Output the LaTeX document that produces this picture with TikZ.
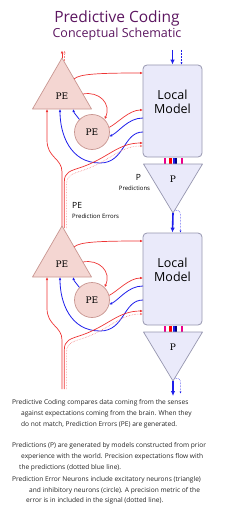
\documentclass[tikz,border=0pt]{standalone}
\usepackage{fontspec}
\setmainfont{Open Sans}
\newfontfamily\peserif{DejaVu Serif}
\usepackage{tikz}
\usetikzlibrary{arrows.meta}
\definecolor{titlepurple}{RGB}{92,22,96}
\definecolor{errred}{RGB}{238,52,52}
\definecolor{predblue}{RGB}{30,30,235}
\definecolor{pefill}{RGB}{244,214,210}
\definecolor{peline}{RGB}{200,150,145}
\definecolor{modelfill}{RGB}{234,234,250}
\definecolor{modelline}{RGB}{150,150,175}
\definecolor{bodytext}{RGB}{35,35,35}

\begin{document}
\begin{tikzpicture}[x=1pt,y=-1pt,
    pecell/.style={draw=peline,fill=pefill,line width=0.7pt,line join=round},
    pecirc/.style={pecell,circle,minimum size=35pt,inner sep=0pt,
                   font=\peserif\fontsize{9}{10}\selectfont},
    modelbox/.style={draw=modelline,fill=modelfill,rounded corners=4pt,line width=0.8pt,
                     minimum width=59pt,minimum height=92pt},
    predtri/.style={draw=modelline,fill=modelfill,line width=0.7pt,line join=round},
    serifpe/.style={font=\peserif\fontsize{9}{10}\selectfont},
    err/.style={draw=errred,line width=0.7pt,-{Latex[length=3pt,width=2.6pt]}},
    errdot/.style={draw=errred!60,line width=0.6pt,densely dotted,-{Latex[length=3pt,width=2.6pt]}},
    pred/.style={draw=predblue,line width=0.8pt,-{Latex[length=3pt,width=2.6pt]}},
    predthick/.style={draw=predblue,line width=1.6pt,-{Latex[length=5pt,width=4.5pt]}},
    precis/.style={draw=predblue,line width=0.5pt,densely dotted,-{Latex[length=2pt,width=2pt]}},
    bodyline/.style={anchor=west,inner sep=0pt,text=bodytext,font=\fontsize{6.6}{8}\selectfont}
  ]
  \useasboundingbox (0,0) rectangle (250,527);

  % title
  \node[font=\fontsize{15.5}{18}\selectfont,text=titlepurple] (title) at (117,18) {Predictive Coding};
  \node[font=\fontsize{12.5}{15}\selectfont,text=titlepurple] (subtitle) at (117,34.5) {Conceptual Schematic};

  % two levels of the hierarchy
  \foreach \i/\dy/\sy in {1/0/228,2/168/221}{
    \begin{scope}[yshift=-\dy pt]
      % prediction error neurons
      \draw[pecell] (62,58) -- (91.5,109) -- (32.5,109) -- cycle;
      \node[serifpe] (peT\i) at (62,96) {PE};
      \node[pecirc] (peC\i) at (92,132) {PE};
      % local model and predictions
      \node[modelbox] (model\i) at (172.5,111) {};
      \node[font=\fontsize{12.5}{14}\selectfont,align=center] (modtxt\i) at (172.5,101.5) {Local\\Model};
      \foreach \bx/\bw/\bc in {164.8/1.5/magenta,169.7/2/red,171.7/1.2/red,
                               173.8/1.6/predblue,176/2.2/blue!50!black,181.8/1.5/magenta}
        \draw[\bc,line width=\bw pt] (\bx,158) -- (\bx,164);
      \draw[predtri] (143.5,164) -- (202.5,164) -- (173,213) -- cycle;
      \node[serifpe] (pred\i) at (173,179) {P};
      \coordinate (predTip\i) at (173,213);
      % ports
      \coordinate (trA\i) at (74,79);
      \coordinate (trB\i) at (83,94);
      \coordinate (tbA\i) at (73,109);
      \coordinate (tbB\i) at (60,109);
      \coordinate (tbC\i) at (47,109);
      \coordinate (mA\i) at (143,73);
      \coordinate (mB\i) at (143,110);
      \coordinate (mC\i) at (143,118);
      \coordinate (mD\i) at (143,132);
      \coordinate (mE\i) at (143,143);
      \coordinate (mF\i) at (143,146);
      % connections within the level
      \draw[err] (trA\i) .. controls +(5,-5) and +(-45,0) .. (mA\i);
      \draw[err] (trB\i) .. controls +(16,-3) and +(7,-16) .. (peC\i.45);
      \draw[err] (peC\i.15) .. controls +(8,-4) and +(-14,0) .. (mB\i);
      \draw[pred] (mC\i) .. controls +(-15,0) and +(10,-5) .. (peC\i.-15);
      \draw[pred] (peC\i.135) .. controls +(-3,-4) and +(1,4) .. (tbA\i);
      \draw[pred] (mD\i) .. controls +(-20,0) and +(25,0) .. (100,163)
                  .. controls +(-30,0) and +(0,25) .. (tbB\i);
      % errors coming up from below
      \draw[err] (62,\sy) -- (62,172) .. controls (62,158) and (47,158) .. (47,140) -- (tbC\i);
      \draw[err] (64.3,\sy) -- (64.3,182) .. controls (64.3,172) and (70,171) .. (82,167)
                 .. controls (108,158) and (118,143) .. (mE\i);
      \draw[errdot] (66.6,\sy) -- (66.6,184) .. controls (66.6,175) and (72,174) .. (84,170)
                 .. controls (110,161) and (120,146) .. (mF\i);
    \end{scope}
  }

  % errors leaving the top level
  \draw[err] (62,58) -- (62,50.5);
  \draw[errdot] (64.5,61) -- (64.5,50.5);

  % predictions coming down
  \coordinate (topIn) at (172.5,50);
  \coordinate (botOut) at (173,396);
  \draw[predthick] (topIn) -- (model1.north);
  \draw[precis] (181.5,50) -- (181.5,64.5);
  \draw[predthick] (predTip1) -- (model2.north);
  \draw[precis] (175,210) .. controls (180.5,211) .. (180.5,220) -- (180.5,232.5);
  \draw[predthick] (predTip2) -- (botOut);
  \draw[precis] (175,378) .. controls (180.5,379) .. (180.5,386) -- (180.5,393.5);

  % labels
  \node[font=\fontsize{8.5}{10}\selectfont] (plabel) at (138.5,177) {P};
  \node[font=\fontsize{6}{7}\selectfont] (ptext) at (134.5,188) {Predictions};
  \node[font=\fontsize{8.5}{10}\selectfont,anchor=west,inner sep=0pt] (pelabel) at (72,205) {PE};
  \node[font=\fontsize{6}{7}\selectfont,anchor=west,inner sep=0pt] (petext) at (72,216) {Prediction Errors};

  % notes
  \foreach \n/\lx/\ly/\txt in {
      1/12/403/{Predictive Coding compares data coming from the senses},
      2/21/414/{against expectations coming from the brain. When they},
      3/21/425/{do not match, Prediction Errors (PE) are generated.},
      4/12/446/{Predictions (P) are generated by models constructed from prior},
      5/21/457/{experience with the world. Precision expectations flow with},
      6/19/467.5/{the predictions (dotted blue line).},
      7/12/479.5/{Prediction Error Neurons include excitatory neurons (triangle)},
      8/29/490.5/{and inhibitory neurons (circle). A precision metric of the},
      9/26/500.5/{error is in included in the signal (dotted line).}}
    \node[bodyline] (note\n) at (\lx,\ly) {\txt};
\end{tikzpicture}
\end{document}
